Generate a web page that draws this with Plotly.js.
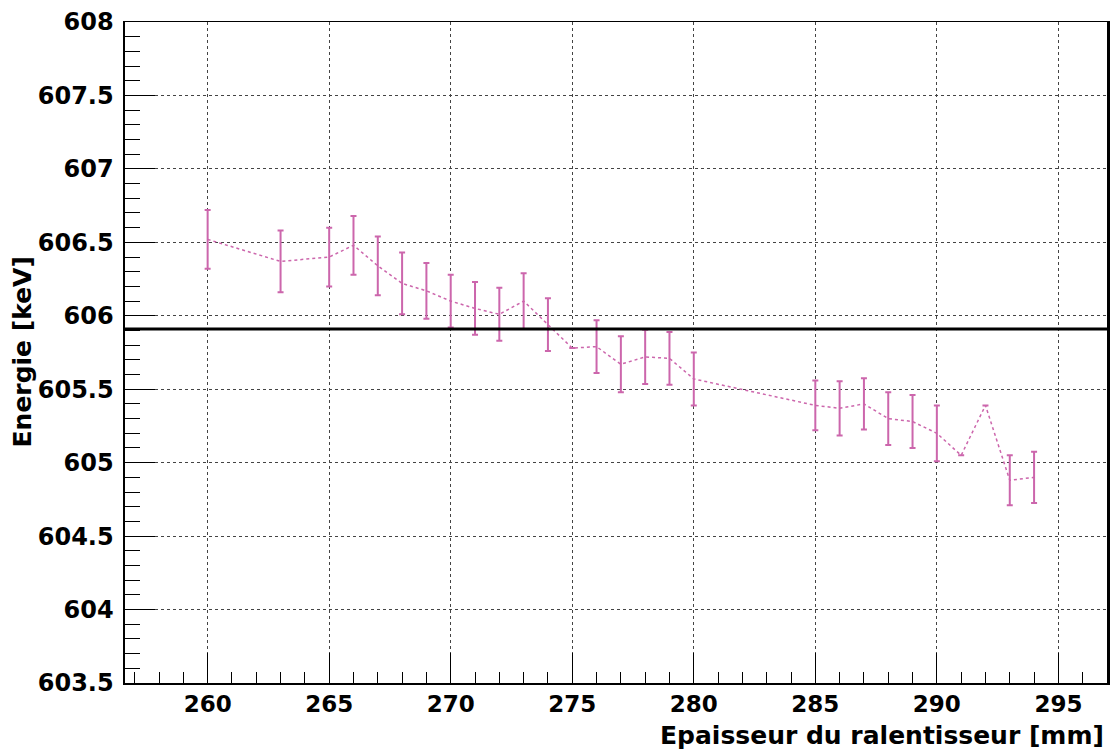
<!DOCTYPE html>
<html>
<head>
<meta charset="utf-8">
<script src="https://cdn.plot.ly/plotly-3.0.1.min.js"></script>
<style>html,body{margin:0;padding:0;background:#fff;}#chart{width:1120px;height:749px;}</style>
</head>
<body>
<div id="chart"></div>
<script>
// Thickness of the degrader [mm]
const thickness = [260, 263, 265, 266, 267, 268, 269, 270, 271, 272, 273, 274, 275, 276, 277, 278, 279, 280, 285, 286, 287, 288, 289, 290, 291, 292, 293, 294];
// Measured energy [keV]
const energy = [606.52, 606.37, 606.40, 606.48, 606.34, 606.22, 606.17, 606.10, 606.05, 606.01, 606.10, 605.94, 605.78, 605.79, 605.67, 605.72, 605.71, 605.57, 605.39, 605.37, 605.40, 605.30, 605.28, 605.20, 605.05, 605.39, 604.88, 604.90];
// Energy uncertainty [keV] (null = no visible error bar)
const energyErr = [0.20, 0.21, 0.20, 0.20, 0.20, 0.21, 0.19, 0.18, 0.18, 0.18, 0.19, 0.18, null, 0.18, 0.19, 0.185, 0.18, 0.18, 0.17, 0.185, 0.175, 0.18, 0.18, 0.19, null, null, 0.17, 0.175];
// Reference energy line [keV]
const REF_ENERGY = 605.91;
const xTitle = "Epaisseur du ralentisseur [mm]";
const yTitle = "Energie [keV]";

const pink = '#cc66ac';
const font = {family: '"DejaVu Sans", "Liberation Sans", Arial, sans-serif', weight: 'bold', color: '#000'};

const trace = {
  x: thickness,
  y: energy,
  type: 'scatter',
  mode: 'lines',
  line: {color: pink, width: 1.5, dash: 'dot'},
  error_y: {type: 'data', array: energyErr, visible: true, color: pink, thickness: 2, width: 3},
  hoverinfo: 'x+y'
};

const layout = {
  width: 1120, height: 749,
  margin: {l: 125, r: 13, t: 22, b: 66},
  paper_bgcolor: '#fff', plot_bgcolor: '#fff',
  showlegend: false,
  font: Object.assign({}, font, {size: 25}),
  xaxis: {
    range: [256.6, 297.0],
    tick0: 260, dtick: 5,
    ticks: 'inside', ticklen: 30, tickwidth: 1, tickcolor: '#000',
    showline: true, linecolor: '#000', linewidth: 1.5, mirror: true,
    showgrid: true, gridcolor: '#444', griddash: 'dot', gridwidth: 1,
    zeroline: false,
    tickfont: Object.assign({}, font, {size: 23}),
    ticklabelstandoff: 0,
    minor: {dtick: 1, ticks: 'inside', ticklen: 11, tickcolor: '#000', tickwidth: 1, showgrid: false}
  },
  yaxis: {
    range: [603.5, 608],
    tick0: 603.5, dtick: 0.5,
    ticks: 'inside', ticklen: 30, tickwidth: 1, tickcolor: '#000',
    showline: true, linecolor: '#000', linewidth: 2.5, mirror: true,
    showgrid: true, gridcolor: '#444', griddash: 'dot', gridwidth: 1,
    zeroline: false,
    tickfont: Object.assign({}, font, {size: 24}),
    ticklabelstandoff: 4,
    minor: {dtick: 0.1, ticks: 'inside', ticklen: 15, tickcolor: '#000', tickwidth: 1, showgrid: false}
  },
  shapes: [{
    type: 'line', xref: 'paper', x0: 0, x1: 1, yref: 'y', y0: REF_ENERGY, y1: REF_ENERGY,
    line: {color: '#000', width: 3}
  }],
  annotations: [
    {text: xTitle, xref: 'paper', yref: 'paper', x: 1.0, xshift: -1, y: 0, xanchor: 'right', yanchor: 'middle', yshift: -52,
     showarrow: false, font: Object.assign({}, font, {size: 25})},
    {text: yTitle, xref: 'paper', yref: 'paper', x: 0, xshift: -103, y: 0.50, xanchor: 'center', yanchor: 'middle',
     textangle: -90, showarrow: false, font: Object.assign({}, font, {size: 25})}
  ]
};

Plotly.newPlot('chart', [trace], layout, {displayModeBar: false, staticPlot: true});
</script>
</body>
</html>
